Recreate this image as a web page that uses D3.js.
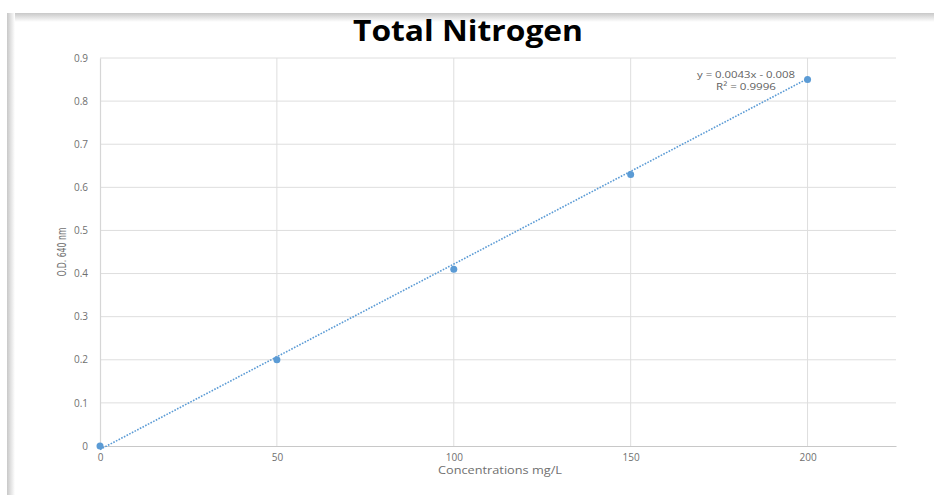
<!DOCTYPE html>
<html>
<head>
<meta charset="utf-8">
<script src="https://cdn.jsdelivr.net/npm/d3@7"></script>
<style>
  html, body { margin: 0; padding: 0; background: #fff; }
  svg { display: block; }
</style>
</head>
<body>
<svg id="chart" width="934" height="495"></svg>
<script>
// Calibration data: concentration (mg/L) vs optical density at 640 nm
const concentrations = [0, 50, 100, 150, 200];
const absorbance = [0, 0.2, 0.41, 0.63, 0.85];
const xTicks = [0, 50, 100, 150, 200];
const yTicks = [0, 0.1, 0.2, 0.3, 0.4, 0.5, 0.6, 0.7, 0.8, 0.9];
// Linear trendline coefficients, as printed on the chart
const trendSlope = [0.0043];
const trendIntercept = [-0.008];
const rSquared = [0.9996];

const svg = d3.select("#chart");
const W = 934, H = 495;

// card with soft shadow on top and left edges
const defs = svg.append("defs");
const gTop = defs.append("linearGradient").attr("id", "shTop").attr("x1", 0).attr("y1", 0).attr("x2", 0).attr("y2", 1);
gTop.append("stop").attr("offset", "0%").attr("stop-color", "#c8c8c8");
gTop.append("stop").attr("offset", "100%").attr("stop-color", "#ffffff");
const gLeft = defs.append("linearGradient").attr("id", "shLeft").attr("x1", 0).attr("y1", 0).attr("x2", 1).attr("y2", 0);
gLeft.append("stop").attr("offset", "0%").attr("stop-color", "#c8c8c8");
gLeft.append("stop").attr("offset", "100%").attr("stop-color", "#ffffff");
svg.append("rect").attr("x", 0).attr("y", 0).attr("width", W).attr("height", H).attr("fill", "#fff");
svg.append("rect").attr("x", 7).attr("y", 13).attr("width", W - 7).attr("height", 9).attr("fill", "url(#shTop)");
svg.append("rect").attr("x", 7).attr("y", 13).attr("width", 8).attr("height", H - 13).attr("fill", "url(#shLeft)");

const plot = { left: 100, right: 896, top: 58, bottom: 446 };
const x = d3.scaleLinear().domain([0, 225]).range([plot.left, plot.right]);
const y = d3.scaleLinear().domain([0, 0.9]).range([plot.bottom, plot.top]);

// gridlines
svg.append("g").selectAll("line").data(yTicks.slice(1)).join("line")
  .attr("x1", plot.left).attr("x2", plot.right)
  .attr("y1", d => y(d)).attr("y2", d => y(d))
  .attr("stroke", "#dedede").attr("stroke-width", 1);
svg.append("g").selectAll("line").data(xTicks.slice(1)).join("line")
  .attr("x1", d => x(d)).attr("x2", d => x(d))
  .attr("y1", plot.top).attr("y2", plot.bottom)
  .attr("stroke", "#dedede").attr("stroke-width", 1);

// axes
const xAxis = svg.append("g").attr("transform", `translate(0,${plot.bottom})`)
  .call(d3.axisBottom(x).tickValues(xTicks).tickSize(0).tickPadding(8).tickFormat(d3.format("d")));
const yAxis = svg.append("g").attr("transform", `translate(${plot.left},0)`)
  .call(d3.axisLeft(y).tickValues(yTicks).tickSize(0).tickPadding(12).tickFormat(d => d === 0 ? "0" : d3.format(".1f")(d)));
[xAxis, yAxis].forEach(a => {
  a.select(".domain").attr("stroke", "#c8c8c8").attr("stroke-width", 1.2);
  a.selectAll("text").attr("fill", "#6f6f6f").style("font-family", "'Open Sans', sans-serif").style("font-size", "10px");
});
yAxis.select(".domain").attr("stroke", "#d6d6d6");

// trendline
const tLine = [0, 200].map(c => [c, trendSlope[0] * c + trendIntercept[0]]);
svg.append("path")
  .attr("d", d3.line().x(d => x(d[0])).y(d => y(d[1]))(tLine))
  .attr("fill", "none").attr("stroke", "#5b9bd5").attr("stroke-width", 1.6)
  .attr("stroke-dasharray", "1.6,1.4");

// markers
svg.append("g").selectAll("circle").data(concentrations.map((c, i) => [c, absorbance[i]])).join("circle")
  .attr("cx", d => x(d[0])).attr("cy", d => y(d[1])).attr("r", 3.5)
  .attr("fill", "#5b9bd5");

// trendline label
const eqStyle = t => t.attr("text-anchor", "middle").attr("fill", "#5f5f5f")
  .style("font-family", "'Open Sans', sans-serif").style("font-size", "9.5px")
  .attr("lengthAdjust", "spacingAndGlyphs");
svg.append("text").call(eqStyle).attr("x", 746).attr("y", 78).attr("textLength", 98)
  .text(`y = ${trendSlope[0]}x - ${Math.abs(trendIntercept[0])}`);
svg.append("text").call(eqStyle).attr("x", 746).attr("y", 90).attr("textLength", 60)
  .text(`R² = ${rSquared[0]}`);

// title
svg.append("text").attr("x", 468).attr("y", 41).attr("text-anchor", "middle")
  .style("font-family", "'Open Sans', sans-serif").style("font-weight", "bold").style("font-size", "28px")
  .attr("textLength", 230).attr("lengthAdjust", "spacingAndGlyphs")
  .attr("fill", "#000").text("Total Nitrogen");

// axis titles
svg.append("text").attr("x", 500).attr("y", 474).attr("text-anchor", "middle")
  .attr("fill", "#6f6f6f").style("font-family", "'Open Sans', sans-serif").style("font-size", "10px")
  .attr("textLength", 124).attr("lengthAdjust", "spacingAndGlyphs")
  .text("Concentrations mg/L");
svg.append("text").attr("transform", "translate(66,252) rotate(-90)").attr("text-anchor", "middle")
  .attr("fill", "#6f6f6f").style("font-family", "'Liberation Sans Narrow', 'DejaVu Sans Condensed', sans-serif").style("font-size", "12px")
  .attr("textLength", 49).attr("lengthAdjust", "spacingAndGlyphs")
  .text("O.D. 640 nm");
</script>
</body>
</html>
